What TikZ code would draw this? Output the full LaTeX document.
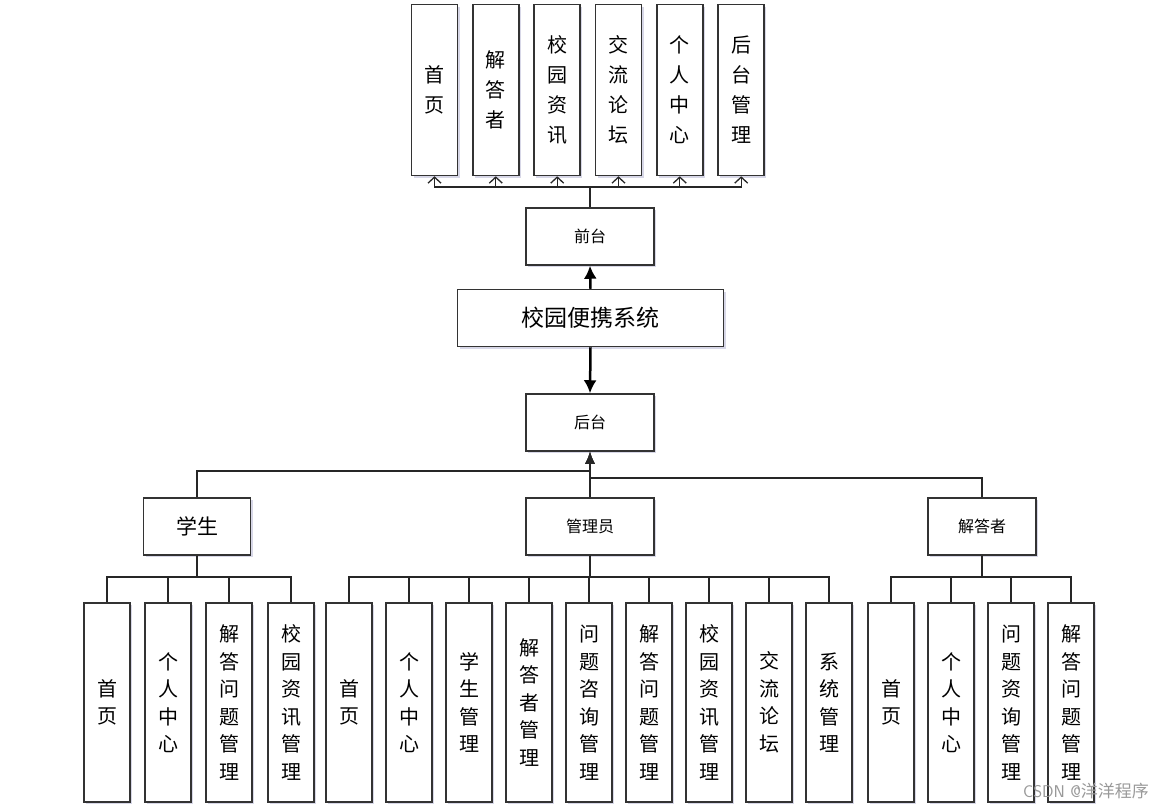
\documentclass[tikz,border=0pt]{standalone}
\usepackage{fontspec}
\newfontfamily\cjk{Noto Sans CJK SC}
\usetikzlibrary{arrows.meta,shadows}

\begin{document}
\begin{tikzpicture}[
  x=1pt, y=-1pt,
  font=\cjk,
  box/.style={draw=black!80, line width=1.5pt, fill=white, inner sep=0pt, align=center,
    drop shadow={shadow xshift=2pt, shadow yshift=-2pt, fill=blue!25!gray, opacity=0.25}},
  topbox/.style={box, minimum width=46pt, minimum height=171pt, font=\cjk\fontsize{20}{30}\selectfont},
  colbox/.style={box, minimum width=46pt, minimum height=199pt, font=\cjk\fontsize{20}{27.5}\selectfont},
  midbox/.style={box, minimum width=128pt, minimum height=57pt, font=\cjk\fontsize{16}{18}\selectfont},
  link/.style={line width=1.3pt, draw=black!85},
  barb/.style={link, line width=1.3pt, -{Straight Barb[length=6pt,width=13pt]}},
  tri/.style={link, -{Latex[length=12pt,width=10pt]}},
  bigtri/.style={line width=2.5pt, draw=black, -{Latex[length=13pt,width=13pt]}}
]
\useasboundingbox (0,0) rectangle (1170,809);

% front end
\node[topbox] (fp1) at (434.5,90) {首\\页};
\node[topbox] (fp2) at (495.8,90) {解\\答\\者};
\node[topbox] (fp3) at (557.2,90) {校\\园\\资\\讯};
\node[topbox] (fp4) at (618.5,90) {交\\流\\论\\坛};
\node[topbox] (fp5) at (679.8,90) {个\\人\\中\\心};
\node[topbox] (fp6) at (741.2,90) {后\\台\\管\\理};

\node[midbox] (qt) at (590,236.5) {前台};
\node[midbox, minimum width=266pt, font=\cjk\fontsize{23}{26}\selectfont] (sys) at (590.5,318) {校园便携系统};
\node[midbox] (ht) at (590,422.5) {后台};

\coordinate (tbus) at (590,187);
\draw[link, line width=2pt] (qt.north) -- (tbus);
\foreach \k in {1,...,6}
  \draw[barb] (tbus) -| (fp\k.south);

\draw[bigtri] (sys.north) -- (qt.south);
\draw[bigtri] (sys.south) -- (ht.north);

% back end roles
\node[midbox, minimum width=107pt, font=\cjk\fontsize{21}{24}\selectfont] (xs) at (197,526.5) {学生};
\node[midbox] (gly) at (590,526.5) {管理员};
\node[midbox, minimum width=108pt] (jdz) at (982,526.5) {解答者};

\coordinate (hb1) at (590,471);
\coordinate (hb2) at (590,478);
\draw[tri] (xs.north) |- (hb1) -- (ht.south);
\draw[tri] (jdz.north) |- (hb2) -- (ht.south);
\draw[tri] (gly.north) -- (ht.south);

% student pages
\node[colbox] (s1) at (107,702.5) {首\\页};
\node[colbox] (s2) at (168,702.5) {个\\人\\中\\心};
\node[colbox] (s3) at (229,702.5) {解\\答\\问\\题\\管\\理};
\node[colbox] (s4) at (291,702.5) {校\\园\\资\\讯\\管\\理};

% admin pages
\node[colbox] (g1) at (349,702.5) {首\\页};
\node[colbox] (g2) at (409,702.5) {个\\人\\中\\心};
\node[colbox] (g3) at (469,702.5) {学\\生\\管\\理};
\node[colbox] (g4) at (529,702.5) {解\\答\\者\\管\\理};
\node[colbox] (g5) at (589,702.5) {问\\题\\咨\\询\\管\\理};
\node[colbox] (g6) at (649,702.5) {解\\答\\问\\题\\管\\理};
\node[colbox] (g7) at (709,702.5) {校\\园\\资\\讯\\管\\理};
\node[colbox] (g8) at (769,702.5) {交\\流\\论\\坛};
\node[colbox] (g9) at (829,702.5) {系\\统\\管\\理};

% answerer pages
\node[colbox] (j1) at (891,702.5) {首\\页};
\node[colbox] (j2) at (951,702.5) {个\\人\\中\\心};
\node[colbox] (j3) at (1011,702.5) {问\\题\\资\\询\\管\\理};
\node[colbox] (j4) at (1071,702.5) {解\\答\\问\\题\\管\\理};

\coordinate (sbus) at (197,577);
\coordinate (gbus) at (590,577);
\coordinate (jbus) at (982,577);
\foreach \k in {1,...,4}
  \draw[link] (xs.south) -- (sbus) -| (s\k.north);
\foreach \k in {1,...,9}
  \draw[link] (gly.south) -- (gbus) -| (g\k.north);
\foreach \k in {1,...,4}
  \draw[link] (jdz.south) -- (jbus) -| (j\k.north);

\node[text=black!40, font=\sffamily\fontsize{17}{19}\selectfont] (wm) at (1086,791)
  {CSDN @{\cjk 洋洋程序}};

\end{tikzpicture}
\end{document}
